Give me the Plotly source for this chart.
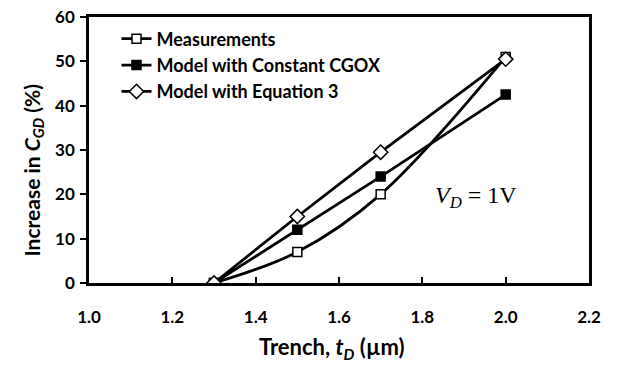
import plotly.graph_objects as go

trench = [1.3, 1.5, 1.7, 2.0]
measurements = [0, 7, 20, 51]
model_const_cgox = [0, 12, 24, 42.5]
model_eq3 = [0, 15, 29.5, 50.5]

x_ticks = [1.0, 1.2, 1.4, 1.6, 1.8, 2.0, 2.2]
x_tick_labels = ["1.0", "1.2", "1.4", "1.6", "1.8", "2.0", "2.2"]
y_ticks = [0, 10, 20, 30, 40, 50, 60]

FONT = "Lato"

fig = go.Figure()
fig.add_trace(go.Scatter(
    x=trench, y=measurements, name="Measurements", mode="lines+markers",
    line=dict(color="black", width=2.8, shape="spline", smoothing=1),
    marker=dict(symbol="square", size=9, color="white", line=dict(color="black", width=1.5)),
))
fig.add_trace(go.Scatter(
    x=trench, y=model_const_cgox, name="Model with Constant CGOX", mode="lines+markers",
    line=dict(color="black", width=2.8),
    marker=dict(symbol="square", size=9, color="black", line=dict(color="black", width=1.5)),
))
fig.add_trace(go.Scatter(
    x=trench, y=model_eq3, name="Model with Equation 3", mode="lines+markers",
    line=dict(color="black", width=2.8),
    marker=dict(symbol="diamond", size=11, color="white", line=dict(color="black", width=1.5)),
))

fig.add_annotation(
    x=1.929, y=19.5, xref="x", yref="y", showarrow=False,
    text="<i>V</i><sub><i>D</i></sub> = 1V",
    font=dict(family="Liberation Serif", size=24, color="black"),
)
# axis titles
fig.add_annotation(
    x=0.486, y=-0.245, xref="paper", yref="paper", xanchor="center", yanchor="middle",
    showarrow=False, text="<b>Trench, <i>t</i><sub><i>D</i></sub> (µm)</b>",
    font=dict(family=FONT, size=22, color="black"),
)
fig.add_annotation(
    x=-0.112, y=0.423, xref="paper", yref="paper", xanchor="center", yanchor="middle",
    showarrow=False, textangle=-90,
    text="<b>Increase in <i>C</i><sub><i>GD</i></sub> (%)</b>",
    font=dict(family=FONT, size=21, color="black"),
)

fig.update_layout(
    width=619, height=368,
    margin=dict(l=89, r=30, t=6, b=85),
    paper_bgcolor="white", plot_bgcolor="white",
    font=dict(family=FONT, color="black"),
    showlegend=True,
    legend=dict(
        x=0.055, y=0.987, xanchor="left", yanchor="top",
        bgcolor="rgba(0,0,0,0)", borderwidth=0,
        font=dict(family=FONT, size=18, color="black", weight="bold"),
        itemwidth=30, tracegroupgap=0,
    ),
)

fig.update_xaxes(
    range=[1.0, 2.2], tickvals=x_ticks, ticktext=x_tick_labels,
    showgrid=False, zeroline=False,
    showline=True, linecolor="black", linewidth=2.5, mirror=True,
    ticks="inside", ticklen=6, tickwidth=2, tickcolor="black",
    ticklabelstandoff=17,
    tickfont=dict(family=FONT, size=17, color="black", weight="bold"),
)
fig.update_yaxes(
    range=[0, 60], tickvals=y_ticks,
    showgrid=False, zeroline=False,
    showline=True, linecolor="black", linewidth=2.5, mirror=True,
    ticks="outside", ticklen=6, tickwidth=2, tickcolor="black",
    ticklabeloverflow="allow", ticklabelstandoff=2,
    tickfont=dict(family=FONT, size=17, color="black", weight="bold"),
)

fig.write_html("out.html")
